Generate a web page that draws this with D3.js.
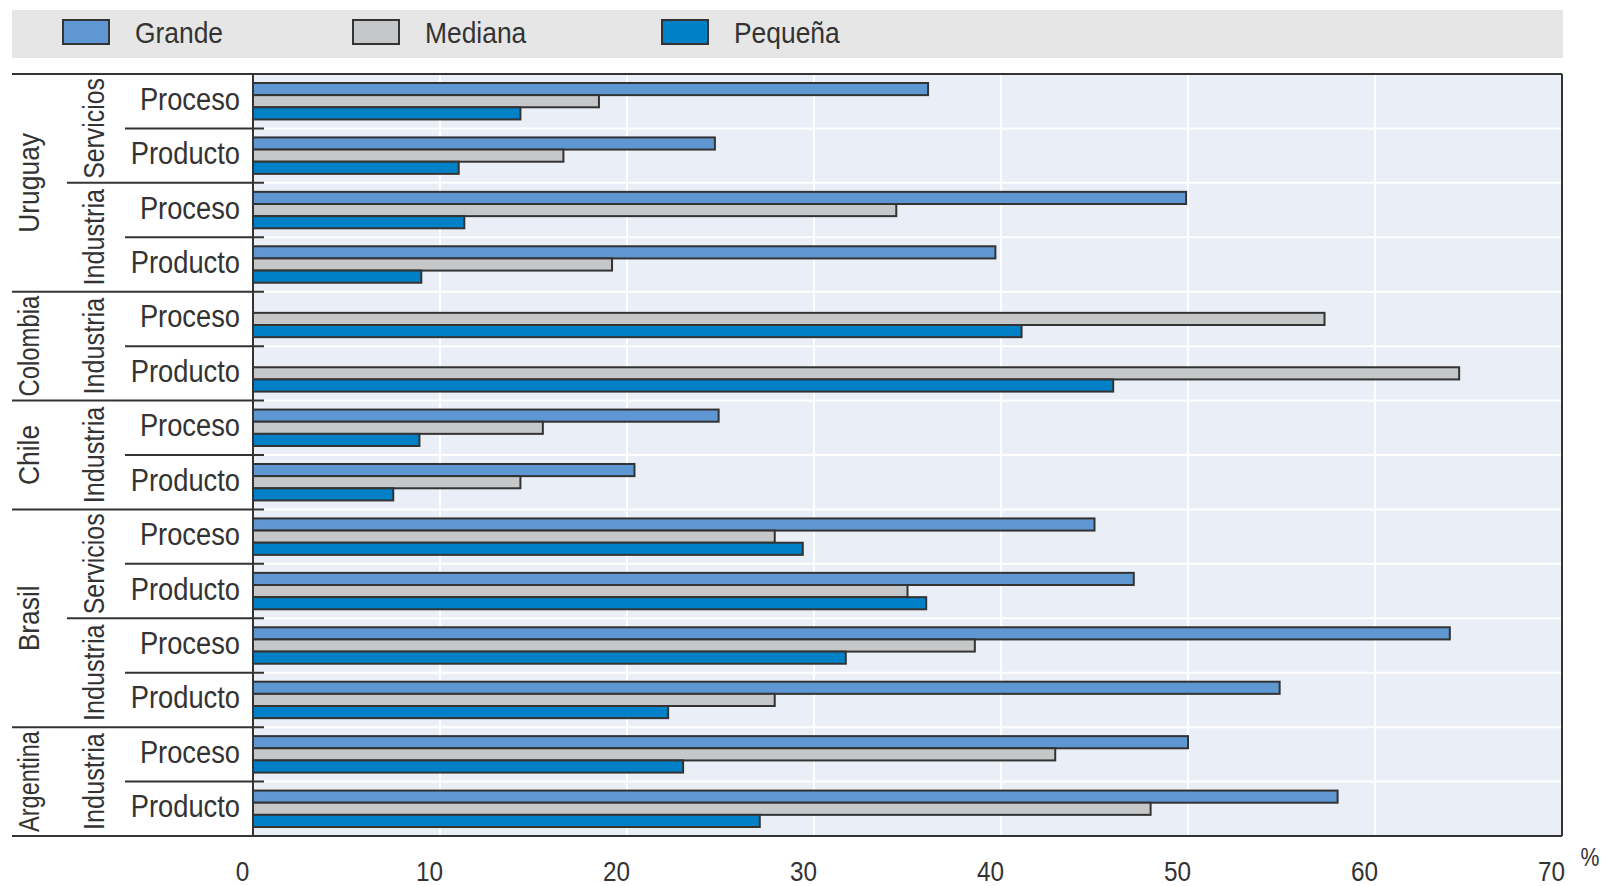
<!DOCTYPE html>
<html>
<head>
<meta charset="utf-8">
<script src="https://cdn.jsdelivr.net/npm/d3@7"></script>
<style>
  body { margin: 0; background: #fff; }
  text { font-family: "Liberation Sans Narrow", "Arial Narrow", "Liberation Sans", sans-serif; fill: #333; }
</style>
</head>
<body>
<div id="chart"></div>
<script>
// rows, top to bottom
const countries = ["Uruguay","Uruguay","Uruguay","Uruguay","Colombia","Colombia","Chile","Chile","Brasil","Brasil","Brasil","Brasil","Argentina","Argentina"];
const sectors = ["Servicios","Servicios","Industria","Industria","Industria","Industria","Industria","Industria","Servicios","Servicios","Industria","Industria","Industria","Industria"];
const types = ["Proceso","Producto","Proceso","Producto","Proceso","Producto","Proceso","Producto","Proceso","Producto","Proceso","Producto","Proceso","Producto"];

const series = ["Grande", "Mediana", "Pequeña"];
const grande  = [36.1, 24.7, 49.9, 39.7, null, null, 24.9, 20.4, 45.0, 47.1, 64.0, 54.9, 50.0, 58.0];
const mediana = [18.5, 16.6, 34.4, 19.2, 57.3, 64.5, 15.5, 14.3, 27.9, 35.0, 38.6, 27.9, 42.9, 48.0];
const pequena = [14.3, 11.0, 11.3, 9.0, 41.1, 46.0, 8.9, 7.5, 29.4, 36.0, 31.7, 22.2, 23.0, 27.1];
const tickValues = [0, 10, 20, 30, 40, 50, 60, 70];

const colors = {"Grande": "#5f97d2", "Mediana": "#c6c7c8", "Pequeña": "#0080c6"};

const W = 1602, H = 886;
const plot = {left: 253, right: 1562, top: 74, bottom: 836};

const svg = d3.select("#chart")
    .append("svg")
    .attr("width", W)
    .attr("height", H);

// no narrow font installed: squeeze the glyphs horizontally instead
function narrow(sel, k, maxLen) {
    sel.each(function () {
        let len = this.getComputedTextLength() * k;
        if (maxLen && len > maxLen) len = maxLen;
        d3.select(this).attr("textLength", len).attr("lengthAdjust", "spacingAndGlyphs");
    });
}

const rowIds = d3.range(countries.length);

const x = d3.scaleLinear()
    .domain([0, 70])
    .range([plot.left, plot.right]);

const y = d3.scaleBand()
    .domain(rowIds)
    .range([plot.top, plot.bottom]);

const ySub = d3.scaleBand()
    .domain(series)
    .range([0, y.bandwidth()])
    .paddingInner(0)
    .paddingOuter(0.74);

// legend band
svg.append("rect")
    .attr("x", 12).attr("y", 10)
    .attr("width", plot.right - 12 + 1).attr("height", 48)
    .attr("fill", "#e6e6e6");

const legendX = [63, 353, 662];
const leg = svg.append("g")
    .selectAll("g")
    .data(series)
    .join("g")
    .attr("transform", (d, i) => `translate(${legendX[i]}, 20)`);
leg.append("rect")
    .attr("width", 46).attr("height", 24)
    .attr("fill", d => colors[d])
    .attr("stroke", "#333").attr("stroke-width", 2);
leg.append("text")
    .attr("x", 72).attr("y", 12)
    .attr("dominant-baseline", "central")
    .style("font-size", "30px")
    .text(d => d)
    .call(narrow, 0.88);

// plot background
svg.append("rect")
    .attr("x", plot.left).attr("y", plot.top)
    .attr("width", plot.right - plot.left).attr("height", plot.bottom - plot.top)
    .attr("fill", "#e9eef7");

// white grid
svg.append("g")
    .selectAll("line")
    .data(tickValues.slice(1, -1))
    .join("line")
    .attr("x1", d => x(d)).attr("x2", d => x(d))
    .attr("y1", plot.top).attr("y2", plot.bottom)
    .attr("stroke", "#fff").attr("stroke-width", 2);

svg.append("g")
    .selectAll("line")
    .data(rowIds.slice(1))
    .join("line")
    .attr("x1", plot.left).attr("x2", plot.right)
    .attr("y1", d => y(d)).attr("y2", d => y(d))
    .attr("stroke", "#fff").attr("stroke-width", 2);

// bars
const barData = [];
rowIds.forEach(i => {
    [grande[i], mediana[i], pequena[i]].forEach((v, j) => {
        if (v != null) barData.push({row: i, s: series[j], v: v});
    });
});

svg.append("g")
    .selectAll("rect")
    .data(barData)
    .join("rect")
    .attr("x", x(0))
    .attr("y", d => y(d.row) + ySub(d.s))
    .attr("width", d => x(d.v) - x(0))
    .attr("height", ySub.bandwidth())
    .attr("fill", d => colors[d.s])
    .attr("stroke", "#333")
    .attr("stroke-width", 2);

// separator lines at row boundaries
const bounds = d3.range(countries.length + 1);
svg.append("g")
    .selectAll("line")
    .data(bounds)
    .join("line")
    .attr("x1", i => {
        if (i === 0 || i === countries.length || countries[i] !== countries[i - 1]) return 12;
        if (sectors[i] !== sectors[i - 1]) return 67;
        return 125;
    })
    .attr("x2", i => (i === 0 || i === countries.length) ? plot.right : plot.left + 11)
    .attr("y1", i => i === countries.length ? plot.bottom : y(i))
    .attr("y2", i => i === countries.length ? plot.bottom : y(i))
    .attr("stroke", "#333").attr("stroke-width", 2);

// frame: axis line and right edge
svg.append("line")
    .attr("x1", plot.left).attr("x2", plot.left)
    .attr("y1", plot.top).attr("y2", plot.bottom)
    .attr("stroke", "#333").attr("stroke-width", 2);
svg.append("line")
    .attr("x1", plot.right).attr("x2", plot.right)
    .attr("y1", plot.top).attr("y2", plot.bottom)
    .attr("stroke", "#333").attr("stroke-width", 2);

// x axis tick labels
const xAxis = svg.append("g")
    .attr("transform", `translate(0, ${plot.bottom})`)
    .call(d3.axisBottom(x).tickValues(tickValues).tickSize(0).tickPadding(26));
xAxis.select(".domain").remove();
xAxis.selectAll("text")
    .attr("dx", -11)
    .style("font-size", "27px")
    .style("font-family", null)
    .attr("fill", "#333")
    .call(narrow, 0.9);

svg.append("text")
    .attr("x", 1590).attr("y", 866)
    .attr("text-anchor", "middle")
    .style("font-size", "25px")
    .text("%")
    .call(narrow, 0.85);

// row labels
svg.append("g")
    .selectAll("text")
    .data(rowIds)
    .join("text")
    .attr("x", 240)
    .attr("y", i => y(i) + y.bandwidth() / 2 - 2)
    .attr("text-anchor", "end")
    .attr("dominant-baseline", "central")
    .style("font-size", "31px")
    .text(i => types[i])
    .call(narrow, 0.88);

// contiguous groups for rotated labels
function runs(keyFn) {
    const out = [];
    rowIds.forEach(i => {
        const k = keyFn(i);
        const last = out[out.length - 1];
        if (last && last.key === k) last.end = i;
        else out.push({key: k, start: i, end: i, label: k.split("|").pop()});
    });
    return out;
}

function drawRotated(groups, cx, k) {
    svg.append("g")
        .selectAll("text")
        .data(groups)
        .join("text")
        .attr("transform", g => {
            const cy = (y(g.start) + y(g.end) + y.bandwidth()) / 2;
            return `translate(${cx}, ${cy}) rotate(-90)`;
        })
        .attr("text-anchor", "middle")
        .attr("dominant-baseline", "central")
        .style("font-size", "30px")
        .text(g => g.label)
        .each(function (g) {
            const avail = (g.end - g.start + 1) * y.bandwidth() - 8;
            d3.select(this).call(narrow, k, avail);
        });
}

drawRotated(runs(i => countries[i]), 28, 0.88);
drawRotated(runs(i => countries[i] + "|" + sectors[i]), 93, 0.84);
</script>
</body>
</html>
